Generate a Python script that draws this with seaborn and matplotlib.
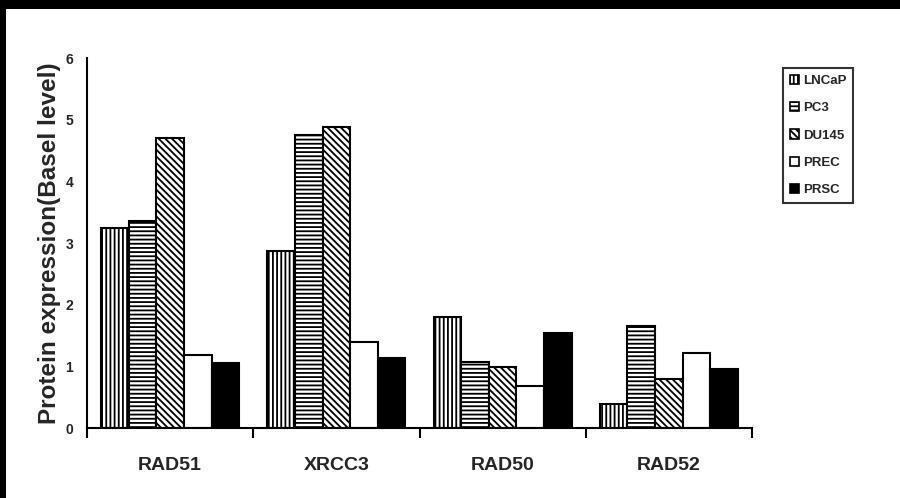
import matplotlib
matplotlib.use("Agg")
import matplotlib.pyplot as plt
import seaborn as sns
import pandas as pd
from matplotlib.patches import Patch, Rectangle

genes = ["RAD51", "XRCC3", "RAD50", "RAD52"]
cell_lines = ["LNCaP", "PC3", "DU145", "PREC", "PRSC"]
lncap = [3.24, 2.87, 1.80, 0.39]
pc3 = [3.35, 4.75, 1.07, 1.65]
du145 = [4.70, 4.88, 0.99, 0.79]
prec = [1.18, 1.39, 0.68, 1.22]
prsc = [1.05, 1.13, 1.54, 0.95]
yticks = [0, 1, 2, 3, 4, 5, 6]

series = [lncap, pc3, du145, prec, prsc]
rows = []
for name, vals in zip(cell_lines, series):
    for g, v in zip(genes, vals):
        rows.append({"gene": g, "line": name, "value": v})
df = pd.DataFrame(rows)

sns.set_theme(style="white")
plt.rcParams["font.family"] = ["Liberation Sans", "DejaVu Sans"]
plt.rcParams["font.weight"] = "bold"
plt.rcParams["hatch.linewidth"] = 1.3

fig = plt.figure(figsize=(9, 4.98), dpi=100)
ax = fig.add_axes([87/900, 1-428/498, (752-87)/900, (428-58)/498])

sns.barplot(data=df, x="gene", y="value", hue="line", order=genes,
            hue_order=cell_lines, width=0.83, ax=ax, legend=False,
            edgecolor="black", linewidth=1.5, saturation=1)

styles = [("white", "||||"), ("white", "----"), ("white", "\\\\\\\\\\"),
          ("white", ""), ("black", "")]
for cont, (fc, h) in zip(ax.containers, styles):
    for p in cont:
        p.set_facecolor(fc)
        p.set_edgecolor("black")
        p.set_hatch(h)

ax.set_ylim(0, 6)
ax.set_xlim(-0.5, len(genes) - 0.5)
ax.set_yticks(yticks)
ax.set_yticklabels([str(t) for t in yticks], fontsize=10, fontweight="bold")
ax.tick_params(axis="y", direction="out", length=6, width=1.5, pad=4, color="black")
ax.set_xticks(range(len(genes)))
ax.set_xticklabels(genes, fontsize=14, fontweight="bold")
ax.tick_params(axis="x", which="major", length=0, pad=21)
ax.set_xticks([i - 0.5 for i in range(len(genes) + 1)], minor=True)
ax.tick_params(axis="x", which="minor", direction="out", length=7, width=1.5,
               color="black", bottom=True)
ax.set_xlabel("")
ax.set_ylabel("Protein expression(Basel level)", fontsize=17.5, fontweight="bold")
ax.yaxis.label.set_va("center")
ax.yaxis.set_label_coords(-0.056, 0.5)

for s in ["top", "right"]:
    ax.spines[s].set_visible(False)
for s in ["left", "bottom"]:
    ax.spines[s].set_color("black")
    ax.spines[s].set_linewidth(1.5)

handles = [Patch(facecolor=fc, edgecolor="black", hatch=h, linewidth=1.2)
           for fc, h in styles]
leg = fig.legend(handles, cell_lines, loc="upper left",
                 bbox_to_anchor=(783/900, 1-68/498), frameon=True,
                 fancybox=False, prop={"weight": "bold", "size": 9.5},
                 handlelength=0.7, handleheight=0.7, handletextpad=0.3,
                 labelspacing=1.15, borderpad=0.5, borderaxespad=0)
leg.get_frame().set_edgecolor("black")
leg.get_frame().set_linewidth(1.5)

fig.patches.append(Rectangle((0, 1-9/498), 1, 9/498, transform=fig.transFigure,
                             facecolor="black", edgecolor="none", zorder=10))
fig.patches.append(Rectangle((0, 0), 6/900, 1, transform=fig.transFigure,
                             facecolor="black", edgecolor="none", zorder=10))

fig.savefig("out.png", dpi=100, facecolor="white")
